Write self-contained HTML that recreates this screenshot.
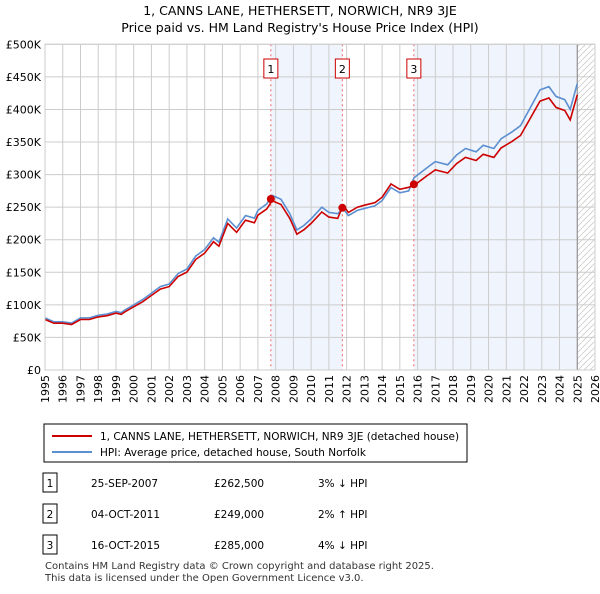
<!DOCTYPE html>
<html><head><meta charset="utf-8"><style>
body{margin:0;background:#fff;font-family:"DejaVu Sans",sans-serif;}
svg text{font-family:"DejaVu Sans",sans-serif;}
</style></head><body>
<svg id="c" width="600" height="590" xmlns="http://www.w3.org/2000/svg">
<text x="300" y="15" text-anchor="middle" font-size="12.5">1, CANNS LANE, HETHERSETT, NORWICH, NR9 3JE</text>
<text x="300" y="32" text-anchor="middle" font-size="12.5">Price paid vs. HM Land Registry's House Price Index (HPI)</text>
<g id="plot"></g>
<rect x="44" y="424" width="423" height="38" fill="#fff" stroke="#000" stroke-width="1"/>
<line x1="52" y1="436" x2="92" y2="436" stroke="#cc0000" stroke-width="2"/>
<text x="100" y="440" font-size="10.5">1, CANNS LANE, HETHERSETT, NORWICH, NR9 3JE (detached house)</text>
<line x1="52" y1="452" x2="92" y2="452" stroke="#5b8fd1" stroke-width="2"/>
<text x="100" y="456" font-size="10.5">HPI: Average price, detached house, South Norfolk</text>
<g id="tbl" font-size="10.5"></g>
<text x="45" y="569" font-size="10" fill="#333">Contains HM Land Registry data © Crown copyright and database right 2025.</text>
<text x="45" y="581" font-size="10" fill="#333">This data is licensed under the Open Government Licence v3.0.</text>
</svg>
<script>
const years=[1995,1996,1997,1998,1999,2000,2001,2002,2003,2004,2005,2006,2007,2008,2009,2010,2011,2012,2013,2014,2015,2016,2017,2018,2019,2020,2021,2022,2023,2024,2025,2026];
const yTicks=[0,50,100,150,200,250,300,350,400,450,500];
const yTickLabels=["£0","£50K","£100K","£150K","£200K","£250K","£300K","£350K","£400K","£450K","£500K"];
const hpiT=[1995.0,1995.5,1996.0,1996.5,1997.0,1997.5,1998.0,1998.5,1999.0,1999.3,1999.5,2000.0,2000.5,2001.0,2001.5,2002.0,2002.5,2003.0,2003.5,2004.0,2004.5,2004.8,2005.3,2005.8,2006.3,2006.8,2007.0,2007.5,2007.8,2008.3,2008.8,2009.2,2009.6,2010.0,2010.6,2011.0,2011.5,2011.8,2012.1,2012.6,2013.0,2013.6,2014.0,2014.5,2015.0,2015.5,2015.8,2016.5,2017.0,2017.7,2018.2,2018.7,2019.3,2019.7,2020.3,2020.7,2021.3,2021.8,2022.3,2022.9,2023.4,2023.8,2024.3,2024.6,2025.0];
const hpiV=[80,74,74,72,80,80,84,86,90,88,92,100,108,118,128,132,148,155,175,185,203,196,232,218,237,233,245,255,268,262,240,215,222,232,250,242,240,248,237,245,248,252,260,280,272,275,295,310,320,315,330,340,335,345,340,355,365,375,400,430,435,420,415,400,440];
const saleT=[2007.73,2011.76,2015.79];
const saleV=[262.5,249,285];
const saleLabels=["1","2","3"];
const saleDates=["25-SEP-2007","04-OCT-2011","16-OCT-2015"];
const salePrices=["£262,500","£249,000","£285,000"];
const saleRel=["3% ↓ HPI","2% ↑ HPI","4% ↓ HPI"];
const ratios=[0.97,1.02,0.96];
const X0=45,X1=595,Y0=370,Y1=44.3;
const xs=t=>X0+(t-1995)/(2026-1995)*(X1-X0);
const ys=v=>Y0-v/500*(Y0-Y1);
const NS="http://www.w3.org/2000/svg";
const plot=document.getElementById('plot');
function mk(tag,attrs,parent){const e=document.createElementNS(NS,tag);for(const k in attrs)e.setAttribute(k,attrs[k]);(parent||plot).appendChild(e);return e;}
let r;
r=mk('rect',{x:xs(saleT[0]),y:Y1,width:xs(saleT[1])-xs(saleT[0]),height:Y0-Y1,fill:'#f0f4fd'});


r=mk('rect',{x:xs(saleT[2]),y:Y1,width:xs(2025.0)-xs(saleT[2]),height:Y0-Y1,fill:'#f0f4fd'});


const defs=mk('defs',{});
const pat=mk('pattern',{id:'hatch',width:6,height:6,patternUnits:'userSpaceOnUse'},defs);
mk('path',{d:'M0,6 L6,0',stroke:'#ccc','stroke-width':0.8},pat);
r=mk('rect',{x:xs(2025.0),y:Y1,width:X1-xs(2025.0),height:Y0-Y1,fill:'url(#hatch)'});


yTicks.forEach((v,i)=>{
 let l=mk('line',{x1:X0,x2:X1,y1:ys(v),y2:ys(v),stroke:'#ccc','stroke-width':1});
 
 
 let t=mk('text',{x:X0-4,y:ys(v)+4,'text-anchor':'end','font-size':11});
 t.textContent=yTickLabels[i];
 
 
});
years.forEach(y=>{
 let l=mk('line',{x1:xs(y),x2:xs(y),y1:Y1,y2:Y0,stroke:'#ccc','stroke-width':1});
 
 
 let t=mk('text',{x:0,y:0,'text-anchor':'end','font-size':11,transform:`translate(${xs(y)+4},${Y0+5}) rotate(-90)`});
 t.textContent=y;
 
 
});
let ed=mk('line',{x1:xs(2025.0),x2:xs(2025.0),y1:Y1,y2:Y0,stroke:'#888','stroke-width':1});


saleT.forEach((t,i)=>{
 let l=mk('line',{x1:xs(t),x2:xs(t),y1:Y1,y2:Y0,stroke:'#e66','stroke-width':1,'stroke-dasharray':'2,3'});
 
 
 let b=mk('rect',{x:xs(t)-7,y:59,width:14,height:19,fill:'#fff',stroke:'#c00','stroke-width':1});
 
 
 let tx=mk('text',{x:xs(t),y:73,'text-anchor':'middle','font-size':11});
 tx.textContent=saleLabels[i];
 
 
});
let hp=hpiT.map((t,i)=>(i?'L':'M')+xs(t).toFixed(1)+','+ys(hpiV[i]).toFixed(1)).join('');
let hl=mk('path',{d:hp,fill:'none',stroke:'#5b8fd1','stroke-width':1.6});


function ratioAt(t){return t<saleT[1]?ratios[0]:(t<saleT[2]?ratios[1]:ratios[2]);}
let pp=hpiT.map((t,i)=>(i?'L':'M')+xs(t).toFixed(1)+','+ys(hpiV[i]*ratioAt(t)).toFixed(1)).join('');
let pl=mk('path',{d:pp,fill:'none',stroke:'#cc0000','stroke-width':1.6});


saleT.forEach((t,i)=>{
 let c=mk('circle',{cx:xs(t),cy:ys(saleV[i]),r:4,fill:'#cc0000'});
 
 
});
let fr=mk('rect',{x:X0,y:Y1,width:X1-X0,height:Y0-Y1,fill:'none',stroke:'#ccc'});


const tbl=document.getElementById('tbl');
const rowY=[483,514,545];
saleLabels.forEach((s,i)=>{
 const y=rowY[i];
 let b=mk('rect',{x:43,y:y-10,width:14,height:19,fill:'#fff',stroke:'#000'},tbl);
 
 
 let t=mk('text',{x:50,y:y+4,'text-anchor':'middle'},tbl);t.textContent=s;
 
 
 t=mk('text',{x:91,y:y+4},tbl);t.textContent=saleDates[i];
 
 
 t=mk('text',{x:214,y:y+4},tbl);t.textContent=salePrices[i];
 
 
 t=mk('text',{x:318,y:y+4},tbl);t.textContent=saleRel[i];
 
 
});
</script>
</body></html>
